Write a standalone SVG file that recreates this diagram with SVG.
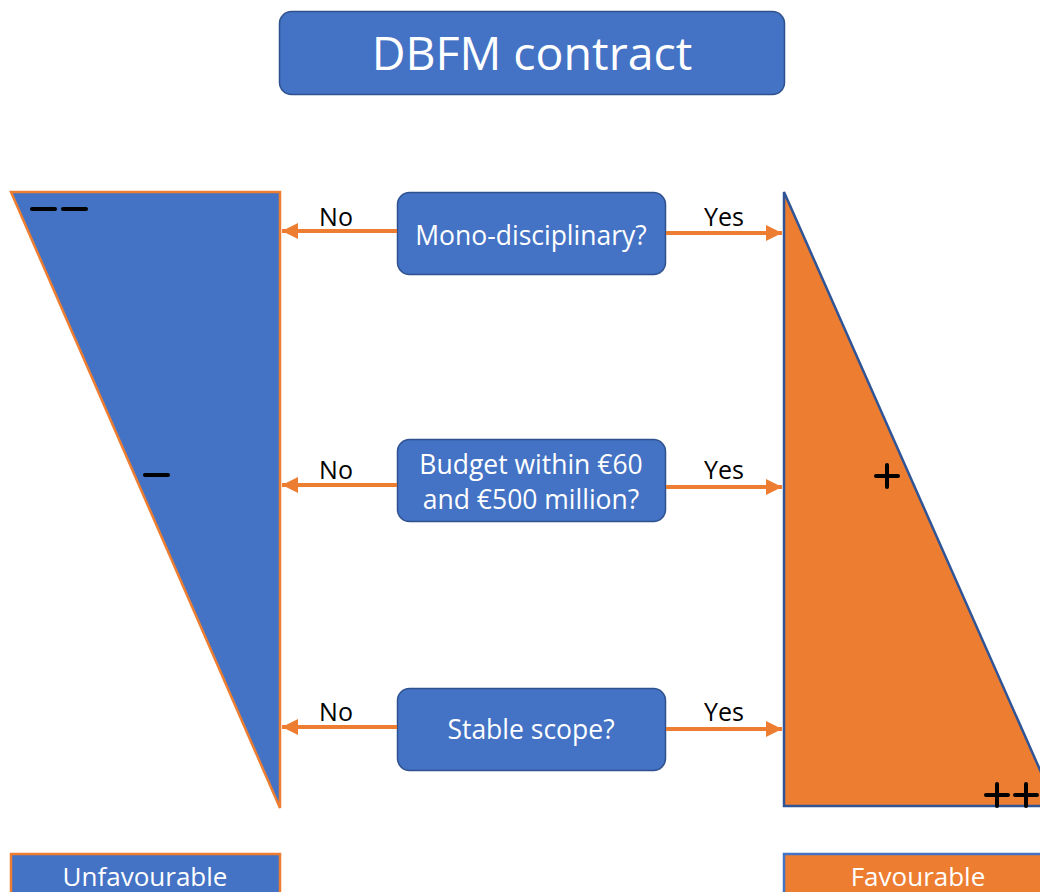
<svg xmlns="http://www.w3.org/2000/svg" width="1040" height="892" viewBox="0 0 1040 892">
  <style>
    .box { fill: #4472C4; stroke: #2F528F; stroke-width: 1.5; }
    .wt { fill: #FFFFFF; font-family: "Open Sans", "Noto Sans", sans-serif; text-anchor: middle; }
    .lbl { fill: #000000; font-family: "Open Sans", "Noto Sans", sans-serif; font-size: 25px; text-anchor: middle; }
    .arrow { stroke: #ED7D31; stroke-width: 4; fill: none; marker-end: url(#head); }
    .mark { stroke: #000000; stroke-width: 4; stroke-linecap: round; }
  </style>
  <defs>
    <marker id="head" viewBox="0 0 10 10" refX="10" refY="5" markerWidth="4" markerHeight="4" orient="auto" markerUnits="strokeWidth">
      <path d="M0,0 L10,5 L0,10 Z" fill="#ED7D31"/>
    </marker>
  </defs>
  <rect width="1040" height="892" fill="#FFFFFF"/>

  <g id="title">
    <rect class="box" x="279.5" y="11.5" width="505" height="83" rx="12"/>
    <text class="wt" x="532" y="70" font-size="46.5">DBFM contract</text>
  </g>

  <g id="unfavourable-wedge">
    <polygon points="11,192 280,192 280,808" fill="#4472C4" stroke="#ED7D31" stroke-width="2.5" stroke-linejoin="miter"/>
    <line class="mark" x1="32" y1="209" x2="55" y2="209"/>
    <line class="mark" x1="63" y1="209" x2="86" y2="209"/>
    <line class="mark" x1="145" y1="475" x2="168" y2="475"/>
  </g>

  <g id="favourable-wedge">
    <polygon points="784,192 1056,806 784,806" fill="#ED7D31" stroke="#2F5597" stroke-width="2.5"/>
    <line class="mark" x1="876" y1="476" x2="898" y2="476"/>
    <line class="mark" x1="887" y1="465" x2="887" y2="487"/>
    <line class="mark" x1="986" y1="795" x2="1008" y2="795"/>
    <line class="mark" x1="997" y1="784" x2="997" y2="806"/>
    <line class="mark" x1="1015" y1="795" x2="1037" y2="795"/>
    <line class="mark" x1="1026" y1="784" x2="1026" y2="806"/>
  </g>

  <g id="q-mono">
    <rect class="box" x="397.5" y="192.5" width="268" height="82" rx="12"/>
    <text class="wt" x="531" y="245" font-size="26.5">Mono-disciplinary?</text>
  </g>

  <g id="q-budget">
    <rect class="box" x="397.5" y="439.5" width="268" height="82" rx="12"/>
    <text class="wt" x="531" y="474" font-size="26.5">Budget within €60</text>
    <text class="wt" x="531" y="509" font-size="26.5">and €500 million?</text>
  </g>

  <g id="q-scope">
    <rect class="box" x="397.5" y="688.5" width="268" height="82" rx="12"/>
    <text class="wt" x="531" y="739" font-size="26.5">Stable scope?</text>
  </g>

  <g id="outcome-unfavourable">
    <rect x="11" y="854" width="269" height="50" fill="#4472C4" stroke="#ED7D31" stroke-width="2.5"/>
    <text class="wt" x="145" y="886" font-size="26">Unfavourable</text>
  </g>

  <g id="outcome-favourable">
    <rect x="784" y="854" width="270" height="50" fill="#ED7D31" stroke="#4472C4" stroke-width="2.5"/>
    <text class="wt" x="918" y="886" font-size="26">Favourable</text>
  </g>

  <g id="connectors">
    <line class="arrow" x1="397" y1="231" x2="282" y2="231"/>
    <line class="arrow" x1="666" y1="233" x2="782" y2="233"/>
    <line class="arrow" x1="397" y1="485" x2="282" y2="485"/>
    <line class="arrow" x1="666" y1="487" x2="782" y2="487"/>
    <line class="arrow" x1="397" y1="727" x2="282" y2="727"/>
    <line class="arrow" x1="666" y1="729" x2="782" y2="729"/>
    <text class="lbl" x="336" y="226">No</text>
    <text class="lbl" x="724" y="226">Yes</text>
    <text class="lbl" x="336" y="479">No</text>
    <text class="lbl" x="724" y="479">Yes</text>
    <text class="lbl" x="336" y="721">No</text>
    <text class="lbl" x="724" y="721">Yes</text>
  </g>
</svg>
